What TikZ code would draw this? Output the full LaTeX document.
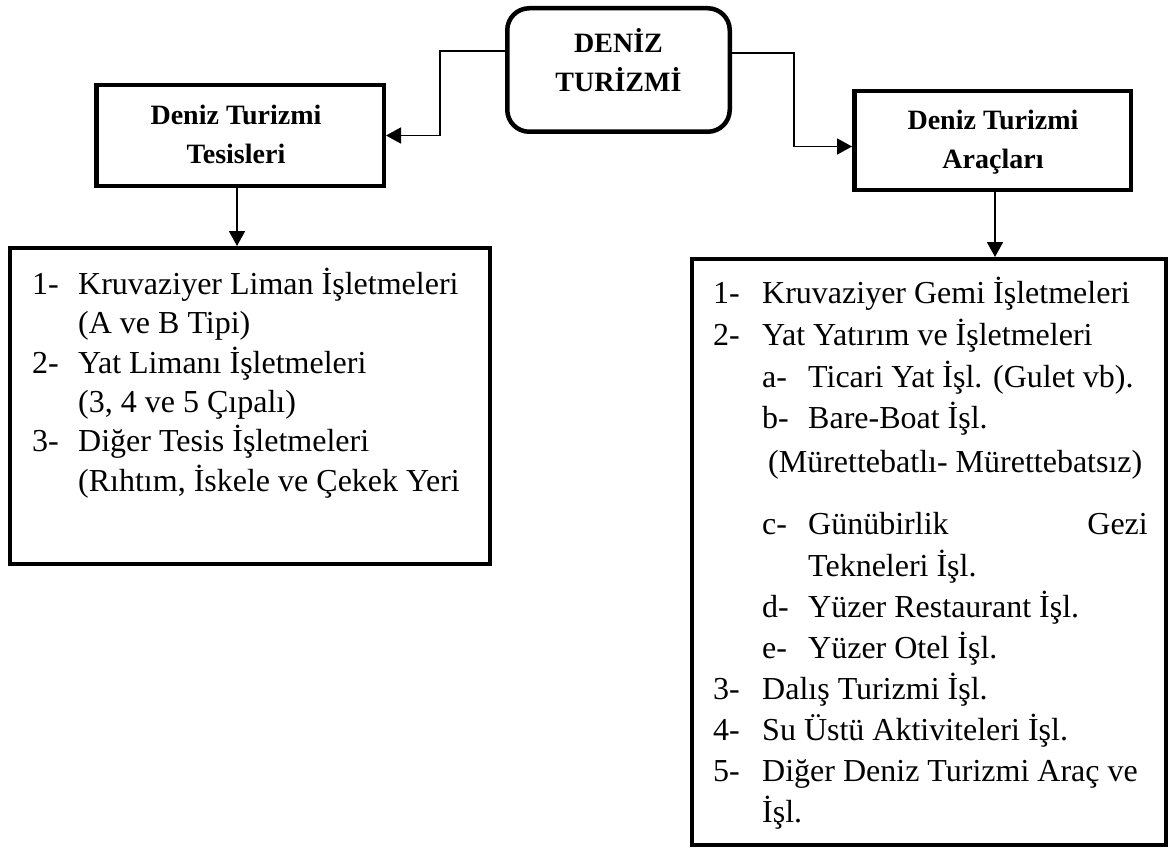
\documentclass[tikz,border=0pt]{standalone}
\usepackage{fontspec}
\setmainfont{Liberation Serif}
\usetikzlibrary{arrows.meta,calc}
\begin{document}
\begin{tikzpicture}[x=1pt,y=-1pt,
  box/.style={draw, line width=4.5pt, inner sep=0pt, outer sep=auto},
  listbox/.style={draw, line width=4pt, inner sep=0pt},
  arr/.style={line width=1.8pt, -{Triangle[length=15pt,width=16pt]}},
  title/.style={font=\bfseries\fontsize{28}{39}\selectfont, align=center, inner sep=0pt, anchor=base},
  item/.style={anchor=base west, inner sep=0pt, font=\fontsize{32}{40}\selectfont},
  iteme/.style={anchor=base east, inner sep=0pt, font=\fontsize{32}{40}\selectfont}]
\useasboundingbox (0,0) rectangle (1170,848);
% boxes
\node[box, rounded corners=22pt, minimum width=222.5pt, minimum height=123.5pt] (top) at (618.5,70) {};
\node[box, minimum width=287.5pt, minimum height=100.5pt] (lbox) at (240,135.5) {};
\node[box, minimum width=276.5pt, minimum height=98.5pt] (rbox) at (992.5,140.5) {};
\node[listbox, minimum width=480pt, minimum height=316pt] (llist) at (250,406) {};
\node[listbox, minimum width=474pt, minimum height=586pt] (rlist) at (929,552) {};
% titles
\node[title] (ttop) at (618.5,92) {DENİZ\\TURİZMİ};
\node[title] (tl) at (236,164) {Deniz Turizmi\\Tesisleri};
\node[title] (tr) at (993,168) {Deniz Turizmi\\Araçları};
% connectors
\draw[arr] ([yshift=19pt]top.west) -| ($(lbox.east)+(54,0)$) -- (lbox.east);
\draw[arr] ([yshift=17pt]top.east) -| ($([yshift=-6pt]rbox.west)+(-58,0)$) -- ([yshift=-6pt]rbox.west);
\draw[arr] ([xshift=-3pt]lbox.south) -- ([xshift=-13pt]llist.north);
\draw[arr] ([xshift=2.5pt]rbox.south) -- ([xshift=66pt]rlist.north);
% left list
\node[item] (l1n) at (32,294) {1-};
\node[item] (l1) at (78,294) {Kruvaziyer Liman İşletmeleri};
\node[item] (l1b) at (78,333) {(A ve B Tipi)};
\node[item] (l2n) at (32,373) {2-};
\node[item] (l2) at (78,373) {Yat Limanı İşletmeleri};
\node[item] (l2b) at (78,412) {(3, 4 ve 5 Çıpalı)};
\node[item] (l3n) at (32,451) {3-};
\node[item] (l3) at (78,451) {Diğer Tesis İşletmeleri};
\node[item] (l3b) at (78,491) {(Rıhtım, İskele ve Çekek Yeri};
% right list
\node[item] (r1n) at (713,303) {1-};
\node[item] (r1) at (762,303) {Kruvaziyer Gemi İşletmeleri};
\node[item] (r2n) at (713,345) {2-};
\node[item] (r2) at (762,345) {Yat Yatırım ve İşletmeleri};
\node[item] (ran) at (762,387) {a-};
\node[item] (ra) at (808,387) {Ticari Yat İşl. (Gulet vb).};
\node[item] (rbn) at (762,428) {b-};
\node[item] (rb) at (808,428) {Bare-Boat İşl.};
\node[item] (rbb) at (768,472) {(Mürettebatlı- Mürettebatsız)};
\node[item] (rcn) at (762,534) {c-};
\node[item] (rc) at (808,534) {Günübirlik};
\node[iteme] (rcg) at (1148,534) {Gezi};
\node[item] (rcb) at (808,576) {Tekneleri İşl.};
\node[item] (rdn) at (762,617) {d-};
\node[item] (rd) at (808,617) {Yüzer Restaurant İşl.};
\node[item] (ren) at (762,658) {e-};
\node[item] (re) at (808,658) {Yüzer Otel İşl.};
\node[item] (r3n) at (713,699) {3-};
\node[item] (r3) at (762,699) {Dalış Turizmi İşl.};
\node[item] (r4n) at (713,740) {4-};
\node[item] (r4) at (762,740) {Su Üstü Aktiviteleri İşl.};
\node[item] (r5n) at (713,781) {5-};
\node[item] (r5) at (762,781) {Diğer Deniz Turizmi Araç ve};
\node[item] (r5b) at (762,822) {İşl.};
\end{tikzpicture}
\end{document}
